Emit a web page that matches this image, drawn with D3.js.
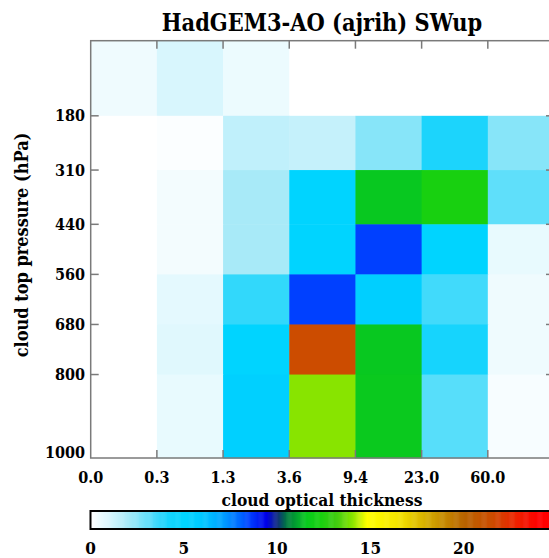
<!DOCTYPE html>
<html>
<head>
  <meta charset="utf-8">
  <title>HadGEM3-AO (ajrih) SWup</title>
  <script src="https://d3js.org/d3.v7.min.js"></script>
  <style>
    body { margin: 0; background: #fff; }
  </style>
</head>
<body>
<div id="chart"></div>
<script>
// cloud optical thickness bin edges (labels on x axis)
var tauLabels = ["0.0", "0.3", "1.3", "3.6", "9.4", "23.0", "60.0"];
// cloud top pressure bin edges, hPa (top of plot is 0)
var pressEdges = [0, 180, 310, 440, 560, 680, 800, 1000];
var pressTicks = [180, 310, 440, 560, 680, 800, 1000];
// values, rows from top (low pressure) to bottom
var swup = [
  [0.4, 1.0, 0.5, 0, 0, 0, 0],
  [0, 0.1, 1.5, 1.4, 2.5, 4.0, 2.5],
  [0, 0.3, 2.0, 5.0, 11.5, 12.3, 3.1],
  [0, 0.3, 2.0, 5.0, 8.5, 5.0, 0.6],
  [0, 0.7, 3.7, 8.5, 5.4, 3.5, 0.4],
  [0, 0.8, 5.0, 21.5, 11.5, 4.2, 0.4],
  [0, 0.6, 5.3, 14.0, 11.6, 3.2, 0.2]
];
var cbarTicks = [0, 5, 10, 15, 20];
// colour table stops
var cStops = [0, 1, 2, 3, 4, 5, 6, 7, 8, 8.5, 9.4, 10, 10.5, 11.5, 12.3, 13.2, 14, 14.8, 16.5, 18.5, 20, 21.5, 22.8, 24, 25];
var cColors = ["#ffffff", "#d8f6fd", "#a8eaf8", "#66e0fa", "#1cd4fc", "#00d4ff", "#00c8ff", "#00a4ff", "#0068ff", "#0040ff",
  "#0000e8", "#10307c", "#007a40", "#08c820", "#18d010", "#44cc11", "#88e400", "#ffff00", "#f4e400", "#cc9900",
  "#b86400", "#cc4c00", "#ee2200", "#ff0000", "#ff0000"];

var W = 549, H = 558;
var svg = d3.select("#chart").append("svg").attr("width", W).attr("height", H)
  .attr("font-family", "'DejaVu Serif Condensed', 'DejaVu Serif', serif")
  .attr("font-weight", "bold");

var x = d3.scaleLinear().domain([0, 7]).range([90.7, 554]);
var y = d3.scaleLinear().domain([0, 1000]).range([40.7, 458]);
var color = d3.scaleLinear().domain(cStops).range(cColors).clamp(true);

// cells
swup.forEach(function (row, r) {
  svg.append("g").selectAll("rect").data(row).enter().append("rect")
    .attr("x", function (d, i) { return x(i); })
    .attr("y", y(pressEdges[r]))
    .attr("width", function (d, i) { return x(i + 1) - x(i) + 0.5; })
    .attr("height", y(pressEdges[r + 1]) - y(pressEdges[r]) + 0.5)
    .attr("fill", function (d) { return color(d); });
});

// frame + inward ticks
var axisCol = "#7a7a7a";
var frame = svg.append("g").attr("stroke", axisCol).attr("stroke-width", 1.5).attr("fill", "none");
frame.append("rect").attr("x", x(0)).attr("y", y(0)).attr("width", x(7) - x(0)).attr("height", y(1000) - y(0));
d3.range(1, 7).forEach(function (i) {
  frame.append("line").attr("x1", x(i)).attr("x2", x(i)).attr("y1", y(0)).attr("y2", y(0) + 8);
  frame.append("line").attr("x1", x(i)).attr("x2", x(i)).attr("y1", y(1000)).attr("y2", y(1000) - 8);
});
pressTicks.slice(0, -1).forEach(function (p) {
  frame.append("line").attr("x1", x(0)).attr("x2", x(0) + 8).attr("y1", y(p)).attr("y2", y(p));
  frame.append("line").attr("x1", x(7)).attr("x2", x(7) - 8).attr("y1", y(p)).attr("y2", y(p));
});

// tick labels
svg.append("g").selectAll("text").data(tauLabels).enter().append("text")
  .attr("x", function (d, i) { return x(i); })
  .attr("y", 483)
  .attr("text-anchor", "middle")
  .attr("font-size", 16)
  .text(function (d) { return d; });

svg.append("g").selectAll("text").data(pressTicks).enter().append("text")
  .attr("x", 85)
  .attr("y", function (d) { return Math.min(y(d), y(1000) - 5.5); })
  .attr("dy", "0.35em")
  .attr("text-anchor", "end")
  .attr("font-size", 16)
  .text(function (d) { return d; });

// titles
svg.append("text").attr("x", 322).attr("y", 31).attr("text-anchor", "middle")
  .attr("font-size", 23.3).text("HadGEM3-AO (ajrih) SWup");
svg.append("text").attr("x", 322).attr("y", 505.5).attr("text-anchor", "middle")
  .attr("font-size", 17.2).text("cloud optical thickness");
svg.append("text").attr("transform", "translate(28,245) rotate(-90)").attr("text-anchor", "middle")
  .attr("font-size", 18).text("cloud top pressure (hPa)");

// colour bar
var cb = d3.scaleLinear().domain([0, 25]).range([90.5, 557]);
var cbY = 511, cbH = 18;
svg.append("g").selectAll("rect").data(d3.range(0, 25, 0.05)).enter().append("rect")
  .attr("x", function (d) { return cb(d); })
  .attr("y", cbY)
  .attr("width", cb(0.05) - cb(0) + 0.5)
  .attr("height", cbH)
  .attr("fill", function (d) { return color(d); });
svg.append("rect").attr("x", cb(0)).attr("y", cbY).attr("width", cb(25) - cb(0)).attr("height", cbH)
  .attr("fill", "none").attr("stroke", "#000").attr("stroke-width", 2);
svg.append("g").selectAll("text").data(cbarTicks).enter().append("text")
  .attr("x", function (d) { return cb(d); })
  .attr("y", 554)
  .attr("text-anchor", "middle")
  .attr("font-size", 17)
  .text(function (d) { return d; });
</script>
</body>
</html>
